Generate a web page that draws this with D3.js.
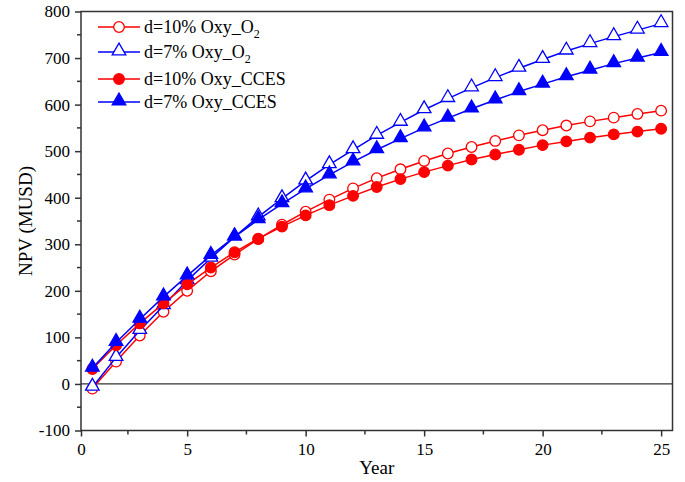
<!DOCTYPE html>
<html>
<head>
<meta charset="utf-8">
<script src="https://cdn.jsdelivr.net/npm/d3@7"></script>
<style>
  body { margin: 0; background: #fff; }
  text { font-family: "Liberation Serif", "Times New Roman", serif; }
</style>
</head>
<body>
<div id="container"></div>
<script>
/* DATA */
const years = d3.range(1, 26)
const oxyO2_10 = [-10, 48, 104, 155, 200, 242, 278, 311, 342, 370, 396, 420, 442, 461, 479, 495, 509, 522, 534, 545, 555, 564, 572, 580, 587]
const oxyO2_7 = [-7, 57, 115, 168, 222, 270, 316, 359, 398, 436, 471, 503, 534, 562, 589, 613, 636, 658, 678, 697, 715, 731, 746, 760, 774]
const cces_10 = [32, 83, 130, 173, 214, 250, 283, 312, 338, 362, 384, 404, 423, 440, 455, 469, 482, 493, 503, 513, 521, 529, 536, 542, 548]
const cces_7 = [34, 89, 139, 187, 232, 276, 316, 353, 387, 419, 449, 477, 503, 527, 550, 571, 591, 610, 628, 644, 660, 674, 688, 700, 712]
const xTicks = [5, 10, 15, 20, 25]
const yTicks = [-100, 0, 100, 200, 300, 400, 500, 600, 700, 800]

const series = [
  { name: "d=10% Oxy_", sub: "2", values: oxyO2_10, color: "#ff0000", shape: "circle", filled: false },
  { name: "d=7% Oxy_", sub: "2", values: oxyO2_7, color: "#0000ff", shape: "triangle", filled: false },
  { name: "d=10% Oxy_CCES", sub: null, values: cces_10, color: "#ff0000", shape: "circle", filled: true },
  { name: "d=7% Oxy_CCES", sub: null, values: cces_7, color: "#0000ff", shape: "triangle", filled: true }
]

/* LAYOUT */
const width = 685
const height = 482
const plotLeft = 81, plotRight = 672.5, plotTop = 11.5, plotBottom = 430.5

const svg = d3.select("#container").append("svg")
  .attr("width", width)
  .attr("height", height)

/* SCALES */
const x = d3.scaleLinear().domain([0.52, 25.48]).range([plotLeft, plotRight])
const y = d3.scaleLinear().domain([-100, 800]).range([plotBottom, plotTop])

const axisColor = "#333"

// zero line
svg.append("line")
  .attr("x1", plotLeft).attr("x2", plotRight)
  .attr("y1", y(0)).attr("y2", y(0))
  .attr("stroke", axisColor).attr("stroke-width", 1.2)

// frame
svg.append("rect")
  .attr("x", plotLeft).attr("y", plotTop)
  .attr("width", plotRight - plotLeft).attr("height", plotBottom - plotTop)
  .attr("fill", "none").attr("stroke", axisColor).attr("stroke-width", 1.5)

/* AXES */
const xAxis = svg.append("g").attr("transform", `translate(0,${plotBottom})`)
xAxis.call(d3.axisBottom(x).tickValues([x.domain()[0], ...xTicks]).tickSize(6).tickPadding(6)
    .tickFormat((d, i) => i === 0 ? "0" : String(d)))
  .call(g => g.select(".domain").remove())
xAxis.call(g => g.selectAll(".tick line").attr("stroke", axisColor).attr("stroke-width", 1.5))
xAxis.selectAll("text").style("font-size", "17px").attr("fill", "#000")
// minor x ticks
xAxis.selectAll(".minor").data([2.5, 7.5, 12.5, 17.5, 22.5]).join("line")
  .attr("x1", d => x(d)).attr("x2", d => x(d))
  .attr("y1", 0).attr("y2", 4)
  .attr("stroke", axisColor).attr("stroke-width", 1.5)

const yAxis = svg.append("g").attr("transform", `translate(${plotLeft},0)`)
yAxis.call(d3.axisLeft(y).tickValues(yTicks).tickSize(6).tickPadding(5).tickFormat(d => String(d)))
  .call(g => g.select(".domain").remove())
yAxis.call(g => g.selectAll(".tick line").attr("stroke", axisColor).attr("stroke-width", 1.5))
yAxis.selectAll("text").style("font-size", "17px").attr("fill", "#000")
yAxis.selectAll(".minor").data(d3.range(-50, 800, 100)).join("line")
  .attr("x1", 0).attr("x2", -4)
  .attr("y1", d => y(d)).attr("y2", d => y(d))
  .attr("stroke", axisColor).attr("stroke-width", 1.5)

// axis titles
svg.append("text")
  .attr("x", (plotLeft + plotRight) / 2).attr("y", 474)
  .attr("text-anchor", "middle")
  .style("font-size", "19px")
  .text("Year")

svg.append("text")
  .attr("transform", `translate(32,${(plotTop + plotBottom) / 2}) rotate(-90)`)
  .attr("text-anchor", "middle")
  .style("font-size", "19px")
  .text("NPV (MUSD)")

/* MARKS */
const line = d3.line().x((d, i) => x(years[i])).y(d => y(d))
const triangle = d3.symbol().type(d3.symbolTriangle).size(80)

function drawMarker(g, s, cx, cy) {
  if (s.shape === "circle") {
    g.append("circle")
      .attr("cx", cx).attr("cy", cy).attr("r", 5.3)
      .attr("fill", s.filled ? s.color : "#fff")
      .attr("stroke", s.color).attr("stroke-width", 1.3)
  } else {
    g.append("path")
      .attr("d", triangle())
      .attr("transform", `translate(${cx},${cy - 1})`)
      .attr("fill", s.filled ? s.color : "#fff")
      .attr("stroke", s.color).attr("stroke-width", 1.3)
  }
}

series.forEach(s => {
  const g = svg.append("g")
  g.append("path")
    .datum(s.values)
    .attr("d", line)
    .attr("fill", "none")
    .attr("stroke", s.color)
    .attr("stroke-width", 1.5)
  s.values.forEach((v, i) => drawMarker(g, s, x(years[i]), y(v)))
})

/* LEGEND */
const legendRows = [27, 52, 79, 102]
series.forEach((s, i) => {
  const g = svg.append("g")
  const ly = legendRows[i]
  g.append("line")
    .attr("x1", 98).attr("x2", 140)
    .attr("y1", ly).attr("y2", ly)
    .attr("stroke", s.color).attr("stroke-width", 1.5)
  drawMarker(g, s, 119, ly)
  const t = g.append("text")
    .attr("x", 144).attr("y", ly + 6)
    .style("font-size", "18px")
  t.append("tspan").text(s.name + (s.sub ? "O" : ""))
  if (s.sub) {
    t.append("tspan").attr("dy", 5).style("font-size", "12px").text(s.sub)
  }
})
</script>
</body>
</html>
